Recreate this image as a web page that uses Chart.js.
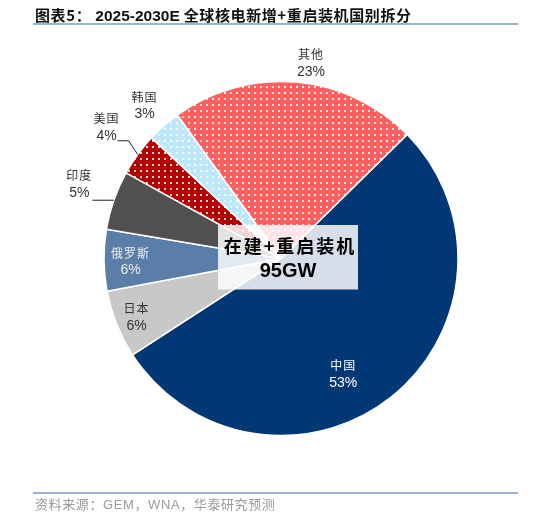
<!DOCTYPE html>
<html>
<head>
<meta charset="utf-8">
<script src="https://cdn.jsdelivr.net/npm/chart.js@4/dist/chart.umd.min.js"></script>
<style>
  html, body { margin: 0; padding: 0; background: #fff; }
  #wrap { position: relative; width: 534px; height: 517px; }
  #shareChart { position: absolute; left: 0; top: 0; }
  .title {
    position: absolute; left: 35px; top: 4px; letter-spacing: 0.6px;
    font: bold 15px "Noto Sans CJK SC", sans-serif; color: #111; white-space: nowrap;
  }
  .title .num { font-family: "Liberation Sans", Arial, sans-serif; font-size: 15.5px; letter-spacing: 0; }
  .rule { position: absolute; left: 33px; width: 485px; height: 1.5px; background: #9db3d1; }
  .source {
    position: absolute; left: 35px; top: 494px; letter-spacing: 0.6px;
    font: 13px "Noto Sans CJK SC", sans-serif; color: #9a9a9a; white-space: nowrap;
  }
  .source .num { font-family: "Liberation Sans", Arial, sans-serif; }
</style>
</head>
<body>
<div id="wrap">
  <canvas id="shareChart" width="534" height="517"></canvas>
  <div class="title">图表5： <span class="num">2025-2030E</span> 全球核电新增+重启装机国别拆分</div>
  <div class="rule" style="top:23px"></div>
  <div class="rule" style="top:492px"></div>
  <div class="source">资料来源：<span class="num">GEM</span>，<span class="num">WNA</span>，华泰研究预测</div>
</div>
<script>
// share of new + restarted capacity, %
const countries = ['中国', '日本', '俄罗斯', '印度', '美国', '韩国', '其他'];
const shares = [53.2, 6.2, 5.6, 5.4, 3.9, 3.1, 22.6];
const centerLines = ['在建+重启装机', '95GW'];

// styling per slice
const baseColors = ['#003876', '#c8c8c8', '#5b7ea9', '#505050', '#b40000', '#bde7fa', '#ff5f5f'];
const dotted = [false, false, false, false, true, true, true];
const textColors = ['#ffffff', '#333333', '#eeeeee', '#333333', '#333333', '#333333', '#333333'];
const labelDist = [0.74, 0.88, 0.85, 1.215, 1.235, 1.16, 1.118];
const labelTurn = [10.4, -0.2, -0.4, 1.1, 1.1, -0.2, 3.9];
const leaders = [null, null, null, 'flat', 'elbow', null, null];

function dots(color) {
  const c = document.createElement('canvas');
  c.width = 6; c.height = 6;
  const g = c.getContext('2d');
  g.fillStyle = color;
  g.fillRect(0, 0, 6, 6);
  g.fillStyle = 'rgba(255,255,255,0.85)';
  g.fillRect(2, 2, 2, 2);
  return g.createPattern(c, 'repeat');
}

const ctx = document.getElementById('shareChart').getContext('2d');
const fills = baseColors.map((c, i) => dotted[i] ? dots(c) : c);

const sliceLabels = {
  id: 'sliceLabels',
  afterDatasetsDraw(chart) {
    const c = chart.ctx;
    const meta = chart.getDatasetMeta(0);
    const total = shares.reduce((a, b) => a + b, 0);
    c.save();
    meta.data.forEach((arc, i) => {
      const p = arc.getProps(['x', 'y', 'startAngle', 'endAngle', 'outerRadius'], true);
      const mid = (p.startAngle + p.endAngle) / 2;
      const a = mid + labelTurn[i] * Math.PI / 180;
      const r = p.outerRadius * labelDist[i];
      const lx = p.x + Math.cos(a) * r;
      const ly = p.y + Math.sin(a) * r;
      const pct = Math.round(shares[i] * 100 / total) + '%';

      c.fillStyle = textColors[i];
      c.textAlign = 'center';
      c.textBaseline = 'middle';
      c.font = '12px "Noto Sans CJK SC"';
      c.letterSpacing = '1px';
      c.fillText(countries[i], lx, ly - 8);
      c.letterSpacing = '0px';
      c.font = '14px "Liberation Sans", Arial';
      c.fillText(pct, lx, ly + 9);

      // leader lines to slice edge
      if (leaders[i]) {
        const ex = p.x + Math.cos(mid) * p.outerRadius;
        const ey = p.y + Math.sin(mid) * p.outerRadius;
        c.strokeStyle = '#222';
        c.lineWidth = 1;
        c.beginPath();
        if (leaders[i] === 'flat') {
          c.moveTo(lx + 13, ey);
          c.lineTo(ex, ey);
        } else {
          c.moveTo(lx + 11, ly + 14);
          c.lineTo(lx + 22, ly + 14);
          c.lineTo(ex, ey);
        }
        c.stroke();
      }
    });

    // centre box
    const cx = meta.data[0].x, cy = meta.data[0].y;
    c.fillStyle = 'rgba(255,255,255,0.84)';
    c.fillRect(cx - 63, cy - 33.5, 140, 64.5);
    c.fillStyle = '#000';
    c.textAlign = 'center';
    c.textBaseline = 'middle';
    c.font = 'bold 18px "Noto Sans CJK SC"';
    c.letterSpacing = '2px';
    c.fillText(centerLines[0], cx + 9, cy - 12);
    c.letterSpacing = '0px';
    c.font = 'bold 20px "Liberation Sans", Arial';
    c.fillText(centerLines[1], cx + 7, cy + 13);
    c.restore();
  }
};

const shareChart = new Chart(ctx, {
  type: 'pie',
  data: {
    labels: countries,
    datasets: [{
      data: shares,
      backgroundColor: fills,
      borderColor: '#ffffff',
      borderWidth: 1.5,
    }],
  },
  options: {
    responsive: false,
    animation: false,
    rotation: 45.5,
    radius: 177,
    layout: {
      padding: { left: 104, right: 76, top: 81.5, bottom: 81.5 },
    },
    plugins: {
      legend: { display: false },
      tooltip: { enabled: false },
    },
  },
  plugins: [sliceLabels],
});
</script>
</body>
</html>
